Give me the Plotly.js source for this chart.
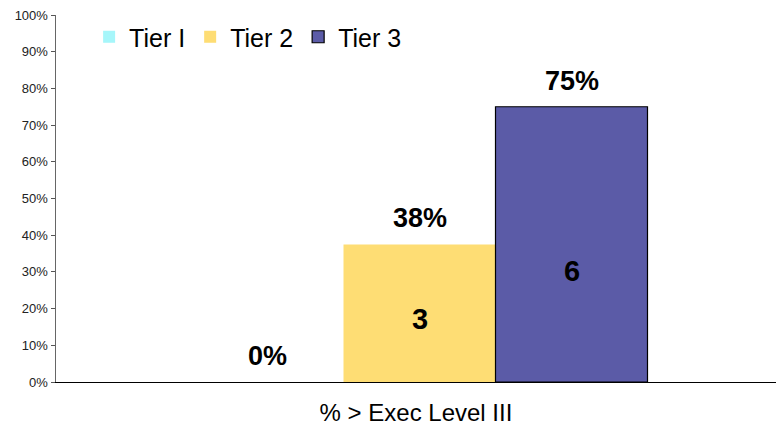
<!DOCTYPE html>
<html><head><meta charset="utf-8">
<script src="https://cdn.plot.ly/plotly-3.0.1.min.js"></script>
<style>html,body{margin:0;padding:0;background:#fff}</style>
</head><body>
<div id="chart" style="width:778px;height:427px"></div>
<script>
const category = ['% > Exec Level III'];
const seriesNames = ['Tier I', 'Tier 2', 'Tier 3'];
const percentValues = [0, 0.375, 0.75];
const countValues = [0, 3, 6];
const percentLabels = ['0%', '38%', '75%'];

const fills = ['#a6f6fa', '#fedd74', '#5b5ba7'];
const outlines = ['#a6f6fa', '#fedd74', '#000000'];
const font = 'Arial, "Liberation Sans", sans-serif';

const W = 778, H = 427;
const margin = {l: 56, r: 2, t: 15, b: 45};
const plotW = W - margin.l - margin.r;
const barPx = 152;
const bargap = 1 - barPx * seriesNames.length / plotW;
const centerShift = 3.5 / plotW;

const traces = seriesNames.map((name, i) => ({
  type: 'bar',
  name: name,
  x: category,
  y: [percentValues[i]],
  marker: {color: fills[i], line: {color: outlines[i], width: i === 2 ? 1.2 : 0}},
  hoverinfo: 'skip'
}));

const annotations = [];
seriesNames.forEach((name, i) => {
  const shift = (i - (seriesNames.length - 1) / 2) * barPx;
  annotations.push({
    x: category[0], y: percentValues[i], xref: 'x', yref: 'y',
    text: '<b>' + percentLabels[i] + '</b>', showarrow: false,
    xshift: shift, yshift: 26, yanchor: 'middle',
    font: {family: font, size: 27, color: '#000'}
  });
  if (countValues[i] > 0) {
    annotations.push({
      x: category[0], y: percentValues[i] * 0.35 + 0.04, xref: 'x', yref: 'y',
      text: '<b>' + countValues[i] + '</b>', showarrow: false,
      xshift: shift, yanchor: 'middle',
      font: {family: font, size: 29, color: '#000'}
    });
  }
});

const layout = {
  width: W, height: H, margin: margin,
  paper_bgcolor: '#fff', plot_bgcolor: '#fff',
  font: {family: font, color: '#000'},
  barmode: 'group', bargap: bargap, bargroupgap: 0,
  showlegend: true,
  legend: {orientation: 'h', x: 0.046, y: 0.94, xanchor: 'left', yanchor: 'middle',
           font: {family: font, size: 25, color: '#000'}, bgcolor: 'rgba(0,0,0,0)',
           itemwidth: 30, tracegroupgap: 0},
  xaxis: {showticklabels: false, ticks: '', showline: true, linecolor: '#000', linewidth: 1.2,
          showgrid: false, zeroline: false, fixedrange: true,
          range: [-0.5 - centerShift, 0.5 - centerShift],
          title: {text: '% > Exec Level III', font: {family: font, size: 24, color: '#000'}, standoff: 22}},
  yaxis: {range: [0, 1], dtick: 0.1, tickformat: '.0%', ticks: 'outside', ticklen: 4,
          tickcolor: '#555', showline: true, linecolor: '#666', linewidth: 1.5,
          showgrid: false, zeroline: false,
          tickfont: {family: font, size: 13, color: '#222'}},
  annotations: annotations
};

Plotly.newPlot('chart', traces, layout, {displayModeBar: false, staticPlot: true});
</script>
</body></html>
